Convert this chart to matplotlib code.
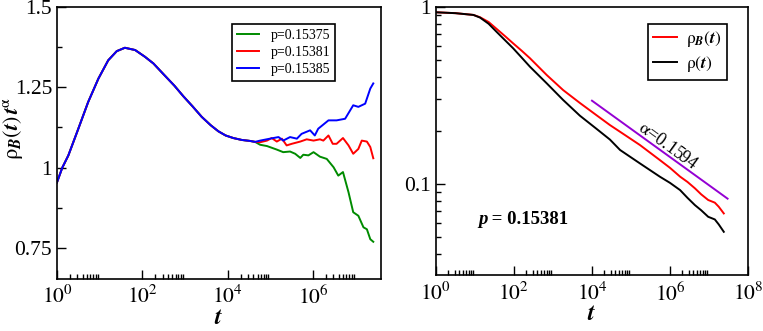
import numpy as np
from matplotlib import pyplot as plt
from matplotlib.ticker import FixedLocator, FixedFormatter, NullFormatter

plt.rcParams['font.family'] = ['Liberation Serif', 'DejaVu Serif']
plt.rcParams['mathtext.fontset'] = 'stix'

# left panel: rho_B(t) t^alpha, common early part (log10 t, value)
common_logt = [0, 0.125, 0.265, 0.5, 0.73, 0.97, 1.2, 1.4, 1.59, 1.83, 2.06, 2.26, 2.5, 2.75, 2.96, 3.18,
               3.39, 3.6, 3.78, 3.95, 4.13, 4.33, 4.52, 4.64]
common_val = [0.954, 1.0, 1.0375, 1.121, 1.204, 1.277, 1.334, 1.3625, 1.373, 1.366, 1.345, 1.324, 1.29, 1.255,
              1.222, 1.19, 1.158, 1.132, 1.113, 1.10, 1.092, 1.086, 1.083, 1.080]

green_logt = [4.76, 4.92, 5.15, 5.30, 5.46, 5.58, 5.70, 5.77, 5.89, 6.01, 6.16, 6.32, 6.48, 6.59, 6.70,
              6.83, 6.94, 7.06, 7.18, 7.26, 7.34, 7.41]
green_val = [1.071, 1.067, 1.056, 1.048, 1.05, 1.043, 1.03, 1.04, 1.038, 1.048, 1.034, 1.027, 1.001, 0.975, 0.986,
             0.923, 0.861, 0.85, 0.814, 0.808, 0.777, 0.769]

red_logt = [4.76, 4.92, 5.03, 5.15, 5.27, 5.38, 5.50, 5.70, 5.85, 6.01, 6.16, 6.24, 6.36, 6.46, 6.55, 6.70,
            6.83, 6.94, 7.06, 7.14, 7.26, 7.34, 7.41]
red_val = [1.079, 1.084, 1.092, 1.081, 1.09, 1.069, 1.074, 1.081, 1.088, 1.084, 1.088, 1.084, 1.1, 1.074, 1.074,
           1.092, 1.069, 1.043, 1.058, 1.084, 1.081, 1.064, 1.029]

blue_logt = [4.76, 4.99, 5.19, 5.30, 5.46, 5.62, 5.73, 5.93, 6.04, 6.12, 6.36, 6.55, 6.75, 6.94, 7.06, 7.22,
             7.34, 7.41]
blue_val = [1.084, 1.09, 1.095, 1.084, 1.095, 1.09, 1.105, 1.116, 1.1, 1.121, 1.147, 1.147, 1.152, 1.194, 1.189,
            1.199, 1.246, 1.262]

left_labels = ['p=0.15375', 'p=0.15381', 'p=0.15385']

# right panel: densities at p = 0.15381 (log10 t, log10 rho)
rho_logt = [0, 0.5, 0.96, 1.13, 1.35, 1.56, 1.77, 1.98, 2.2, 2.41, 2.84, 3.26, 3.69, 4.12, 4.46, 4.72, 5.23,
            5.74, 6.0, 6.26, 6.45, 6.64, 6.8, 6.98, 7.15, 7.25, 7.38]
rhoB_log = [-0.03, -0.035, -0.045, -0.058, -0.085, -0.125, -0.165, -0.206, -0.248, -0.29, -0.385, -0.47, -0.543,
            -0.613, -0.668, -0.706, -0.781, -0.866, -0.91, -0.960, -0.99, -1.026, -1.06, -1.092, -1.107, -1.13,
            -1.168]
rho_log = [-0.03, -0.035, -0.045, -0.060, -0.095, -0.142, -0.188, -0.234, -0.287, -0.338, -0.432, -0.526, -0.615,
           -0.69, -0.75, -0.809, -0.885, -0.960, -0.995, -1.036, -1.08, -1.121, -1.15, -1.187, -1.202, -1.23,
           -1.272]

# power-law guide line
guide_t = [1e4, 3e7]
guide_t0, guide_v0, alpha = 1e4, 0.295, 0.1594

GREEN, RED, BLUE, VIOLET = '#008b00', '#ff0000', '#0000ff', '#9400d3'


def style_xaxis(ax, decades):
    ax.set_xscale('log')
    ax.xaxis.set_major_locator(FixedLocator([10.0 ** d for d in decades]))
    ax.xaxis.set_major_formatter(FixedFormatter(['$10^{%d}$' % d for d in decades]))
    minors = [m * 10.0 ** d for d in decades if d < 8 for m in range(2, 10)]
    ax.xaxis.set_minor_locator(FixedLocator(minors))
    ax.xaxis.set_minor_formatter(NullFormatter())


def style_common(ax):
    for s in ax.spines.values():
        s.set_linewidth(1.2)
    ax.tick_params(which='both', direction='in', top=False, right=False, width=1.0, labelsize=15.5)
    ax.tick_params(which='major', length=6.5)
    ax.tick_params(which='minor', length=3.8)
    ax.tick_params(axis='x', pad=5)
    ax.set_xlabel(r'$\mathbfit{t}$', fontsize=17.5, labelpad=-1)


fig = plt.figure(figsize=(7.63, 3.31), dpi=100)
ax1 = fig.add_axes([0.0747, 0.157, 0.4246, 0.8219])
ax2 = fig.add_axes([0.5714, 0.168, 0.4089, 0.8109])

# left panel
for lt, lv, c, lab in [(green_logt, green_val, GREEN, left_labels[0]),
                       (red_logt, red_val, RED, left_labels[1]),
                       (blue_logt, blue_val, BLUE, left_labels[2])]:
    tt = 10.0 ** np.array(common_logt + lt)
    ax1.plot(tt, common_val + lv, color=c, lw=1.4, label=lab)

style_xaxis(ax1, [0, 2, 4, 6])
ax1.set_xlim(1, 10 ** 7.59)
ax1.set_ylim(0.653, 1.5)
ax1.yaxis.set_major_locator(FixedLocator([0.75, 1.0, 1.25, 1.5]))
ax1.yaxis.set_major_formatter(FixedFormatter(['0.75', '1', '1.25', '1.5']))
ax1.yaxis.set_minor_locator(FixedLocator([0.875, 1.125, 1.375]))
style_common(ax1)
ax1.set_ylabel(r'$\mathrm{\rho}_{\mathbfit{B}}(\mathbfit{t})\,\mathbfit{t}^{\mathrm{\alpha}}$', fontsize=16)
ax1.yaxis.set_label_coords(-0.1, 0.555)
leg1 = ax1.legend(loc='upper right', bbox_to_anchor=(0.858, 0.9375), borderaxespad=0, fontsize=10,
                  fancybox=False, edgecolor='black', framealpha=1, handlelength=1.6, handletextpad=0.8,
                  labelspacing=0.3, borderpad=0.35)
leg1.get_frame().set_linewidth(1.2)

# right panel
rt = 10.0 ** np.array(rho_logt)
ax2.plot(rt, 10.0 ** np.array(rhoB_log), color=RED, lw=1.4,
         label=r'$\mathrm{\rho}_{\mathbfit{B}}(\mathbfit{t})$')
ax2.plot(rt, 10.0 ** np.array(rho_log), color='black', lw=1.4, label=r'$\mathrm{\rho}(\mathbfit{t})$')
gt = np.array(guide_t)
ax2.plot(gt, guide_v0 * (gt / guide_t0) ** (-alpha), color=VIOLET, lw=1.4)

style_xaxis(ax2, [0, 2, 4, 6, 8])
ax2.set_xlim(1, 1e8)
ax2.set_yscale('log')
ax2.set_ylim(0.0303, 1.0)
ax2.yaxis.set_major_locator(FixedLocator([0.1, 1.0]))
ax2.yaxis.set_major_formatter(FixedFormatter(['0.1', '1']))
ax2.yaxis.set_minor_locator(FixedLocator([m * 0.01 for m in range(3, 10)] + [m * 0.1 for m in range(2, 10)]))
ax2.yaxis.set_minor_formatter(NullFormatter())
style_common(ax2)

leg2 = ax2.legend(loc='upper right', bbox_to_anchor=(0.932, 0.937), borderaxespad=0, fontsize=12.5,
                  fancybox=False, edgecolor='black', framealpha=1, handlelength=1.4, handletextpad=0.5,
                  labelspacing=0.3, borderpad=0.3)
leg2.get_frame().set_linewidth(1.2)

ax2.text(10 ** 5.95, 10 ** -0.79, r'$\mathrm{\alpha}$=0.1594', fontsize=13, rotation=-36,
         ha='center', va='center')

tp = ax2.text(10 ** 1.08, 10 ** -1.2, 'p', fontsize=13.5, fontweight='bold', fontstyle='italic', va='center')
ax2.annotate(' = 0.15381', xy=(1, 0.5), xycoords=tp, va='center', fontsize=13.5, fontweight='bold')

fig.savefig('out.png', dpi=100)
